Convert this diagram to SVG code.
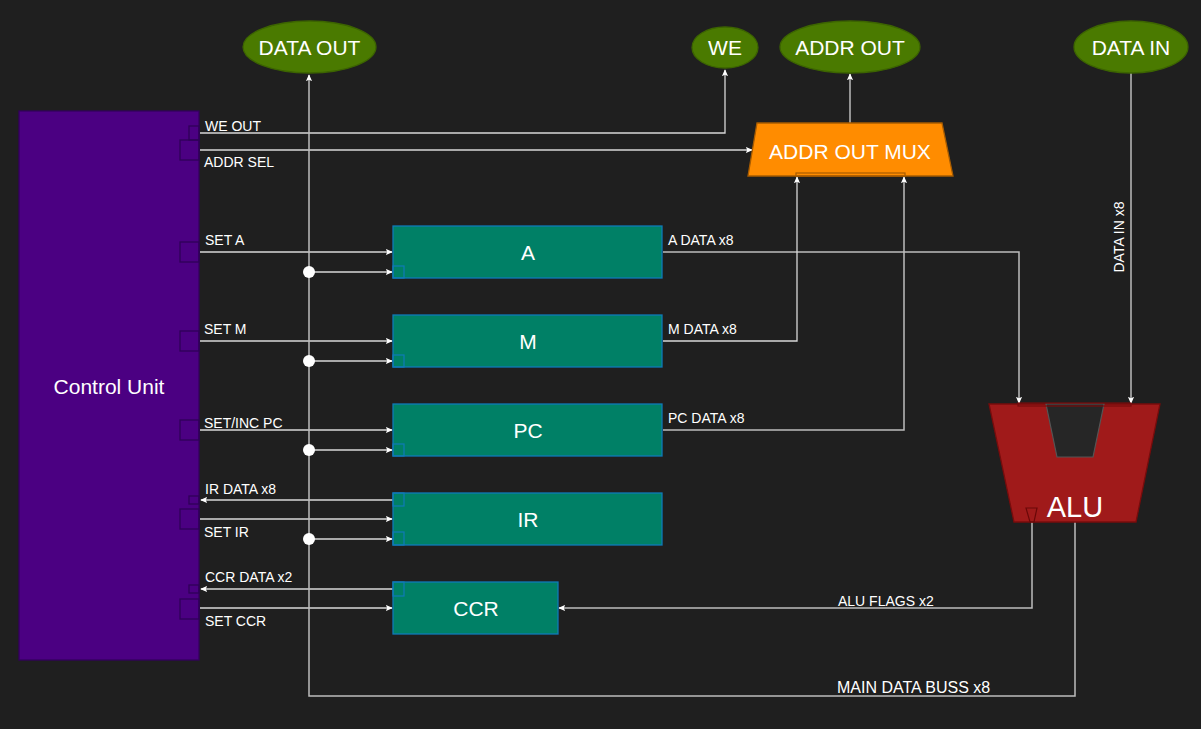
<svg xmlns="http://www.w3.org/2000/svg" width="1201" height="729" viewBox="0 0 1201 729">
<style>
text{font-family:"Liberation Sans",Arial,sans-serif;fill:#ffffff}
.lbl{font-size:14px}
.big{font-size:21px;text-anchor:middle;dominant-baseline:central}
.ln{fill:none;stroke:#d8d8d8;stroke-width:1.3}
.bus{fill:none;stroke:#bdbdbd;stroke-width:1.5}
.reg{fill:#008066;stroke:#0f7ab8;stroke-width:1.3}
.port{fill:none;stroke:#0f7ab8;stroke-width:1.2}
.cport{fill:none;stroke:#2e0058;stroke-width:1.3}
.io{fill:#4a7a00;stroke:#3c6400;stroke-width:1.3}
</style>
<defs>
<marker id="ar" viewBox="0 0 8 8" refX="7" refY="4" markerWidth="7" markerHeight="7" markerUnits="userSpaceOnUse" orient="auto">
<path d="M0,0.5 L8,4 L0,7.5 L1.5,4 Z" fill="#ffffff"/>
</marker>
</defs>
<rect width="1201" height="729" fill="#1f1f1f"/>

<g id="control-unit">
<rect x="19" y="111" width="180" height="549" fill="#4b0082" stroke="#33005e" stroke-width="1.3"/>
<rect class="cport" x="189" y="126" width="10" height="14"/>
<rect class="cport" x="180" y="140" width="19" height="20"/>
<rect class="cport" x="180" y="242" width="19" height="20"/>
<rect class="cport" x="180" y="331" width="19" height="20"/>
<rect class="cport" x="180" y="420" width="19" height="20"/>
<rect class="cport" x="189" y="496" width="10" height="8"/>
<rect class="cport" x="180" y="509" width="19" height="20"/>
<rect class="cport" x="189" y="585" width="10" height="8"/>
<rect class="cport" x="180" y="599" width="19" height="20"/>
<text class="big" x="109" y="386">Control Unit</text>
</g>

<g id="connectors">
<polyline class="ln" points="200,133 725,133 725,70" marker-end="url(#ar)"/>
<line class="ln" x1="200" y1="150" x2="752" y2="150" marker-end="url(#ar)"/>
<line class="ln" x1="200" y1="252" x2="392" y2="252" marker-end="url(#ar)"/>
<line class="ln" x1="200" y1="341" x2="392" y2="341" marker-end="url(#ar)"/>
<line class="ln" x1="200" y1="430" x2="392" y2="430" marker-end="url(#ar)"/>
<line class="ln" x1="393" y1="500" x2="201" y2="500" marker-end="url(#ar)"/>
<line class="ln" x1="200" y1="519" x2="392" y2="519" marker-end="url(#ar)"/>
<line class="ln" x1="393" y1="589" x2="201" y2="589" marker-end="url(#ar)"/>
<line class="ln" x1="200" y1="608" x2="392" y2="608" marker-end="url(#ar)"/>
<polyline class="bus" points="1075,522 1075,696 309,696 309,75" marker-end="url(#ar)"/>
<line class="ln" x1="309" y1="272" x2="392" y2="272" marker-end="url(#ar)"/>
<line class="ln" x1="309" y1="361" x2="392" y2="361" marker-end="url(#ar)"/>
<line class="ln" x1="309" y1="450" x2="392" y2="450" marker-end="url(#ar)"/>
<line class="ln" x1="309" y1="539" x2="392" y2="539" marker-end="url(#ar)"/>
<circle cx="309" cy="272" r="6" fill="#ffffff"/>
<circle cx="309" cy="361" r="6" fill="#ffffff"/>
<circle cx="309" cy="450" r="6" fill="#ffffff"/>
<circle cx="309" cy="539" r="6" fill="#ffffff"/>
<polyline class="bus" points="663,252 1019,252 1019,403" marker-end="url(#ar)"/>
<polyline class="ln" points="663,341 797,341 797,177" marker-end="url(#ar)"/>
<polyline class="bus" points="663,430 904,430 904,177" marker-end="url(#ar)"/>
<line class="bus" x1="850" y1="123" x2="850" y2="74" marker-end="url(#ar)"/>
<line class="bus" x1="1131" y1="73" x2="1131" y2="403" marker-end="url(#ar)"/>
<polyline class="bus" points="1032,522 1032,608 559,608" marker-end="url(#ar)"/>
<text class="lbl" x="205" y="131">WE OUT</text>
<text class="lbl" x="204" y="167">ADDR SEL</text>
<text class="lbl" x="205" y="245">SET A</text>
<text class="lbl" x="204" y="334">SET M</text>
<text class="lbl" x="204" y="428">SET/INC PC</text>
<text class="lbl" x="205" y="494">IR DATA x8</text>
<text class="lbl" x="204" y="537">SET IR</text>
<text class="lbl" x="205" y="582">CCR DATA x2</text>
<text class="lbl" x="205" y="626">SET CCR</text>
<text class="lbl" x="668" y="245">A DATA x8</text>
<text class="lbl" x="668" y="334">M DATA x8</text>
<text class="lbl" x="668" y="423">PC DATA x8</text>
<text class="lbl" x="838" y="606">ALU FLAGS x2</text>
<text x="837" y="693" font-size="16">MAIN DATA BUSS x8</text>
<text class="lbl" transform="translate(1124,237) rotate(-90)" text-anchor="middle">DATA IN x8</text>
</g>

<g id="data-out">
<ellipse class="io" cx="309.5" cy="47" rx="66.5" ry="26"/>
<text class="big" x="309.5" y="47">DATA OUT</text>
</g>
<g id="we">
<ellipse class="io" cx="725" cy="47.5" rx="33" ry="20.5"/>
<text class="big" x="725" y="47.5">WE</text>
</g>
<g id="addr-out">
<ellipse class="io" cx="850" cy="47" rx="70" ry="26"/>
<text class="big" x="850" y="47">ADDR OUT</text>
</g>
<g id="data-in">
<ellipse class="io" cx="1131" cy="47" rx="57" ry="26"/>
<text class="big" x="1131" y="47">DATA IN</text>
</g>

<g id="addr-out-mux">
<polygon points="757,123 942,123 953,176 748,176" fill="#ff8c00" stroke="#a85c00" stroke-width="1.3"/>
<rect x="796" y="173" width="109" height="3" fill="none" stroke="#a85c00" stroke-width="1.2"/>
<text class="big" x="850" y="151">ADDR OUT MUX</text>
</g>

<g id="reg-a">
<rect class="reg" x="393" y="226" width="269" height="52"/>
<rect class="port" x="393" y="266" width="11" height="12"/>
<text class="big" x="528" y="252">A</text>
</g>
<g id="reg-m">
<rect class="reg" x="393" y="315" width="269" height="52"/>
<rect class="port" x="393" y="355" width="11" height="12"/>
<text class="big" x="528" y="341">M</text>
</g>
<g id="reg-pc">
<rect class="reg" x="393" y="404" width="269" height="52"/>
<rect class="port" x="393" y="444" width="11" height="12"/>
<text class="big" x="528" y="430">PC</text>
</g>
<g id="reg-ir">
<rect class="reg" x="393" y="493" width="269" height="52"/>
<rect class="port" x="393" y="493" width="11" height="13"/>
<rect class="port" x="393" y="532" width="11" height="13"/>
<text class="big" x="528" y="519">IR</text>
</g>
<g id="reg-ccr">
<rect class="reg" x="393" y="582" width="165" height="52"/>
<rect class="port" x="393" y="582" width="11" height="14"/>
<text class="big" x="476" y="608">CCR</text>
</g>

<g id="alu">
<polygon points="989,404 1160,404 1136,522 1014,522" fill="#a01a1a" stroke="#780c0c" stroke-width="1.3"/>
<polygon points="1046,404 1104,404 1093,457 1057,457" fill="#262626" stroke="#555555" stroke-width="1.2"/>
<rect x="1018" y="403" width="113" height="3" fill="none" stroke="#780c0c" stroke-width="1.2"/>
<polygon points="1026,508 1037,508 1034,522 1030,522" fill="none" stroke="#6a0808" stroke-width="1.2"/>
<text x="1075" y="507" font-size="29" text-anchor="middle" dominant-baseline="central">ALU</text>
</g>
</svg>
